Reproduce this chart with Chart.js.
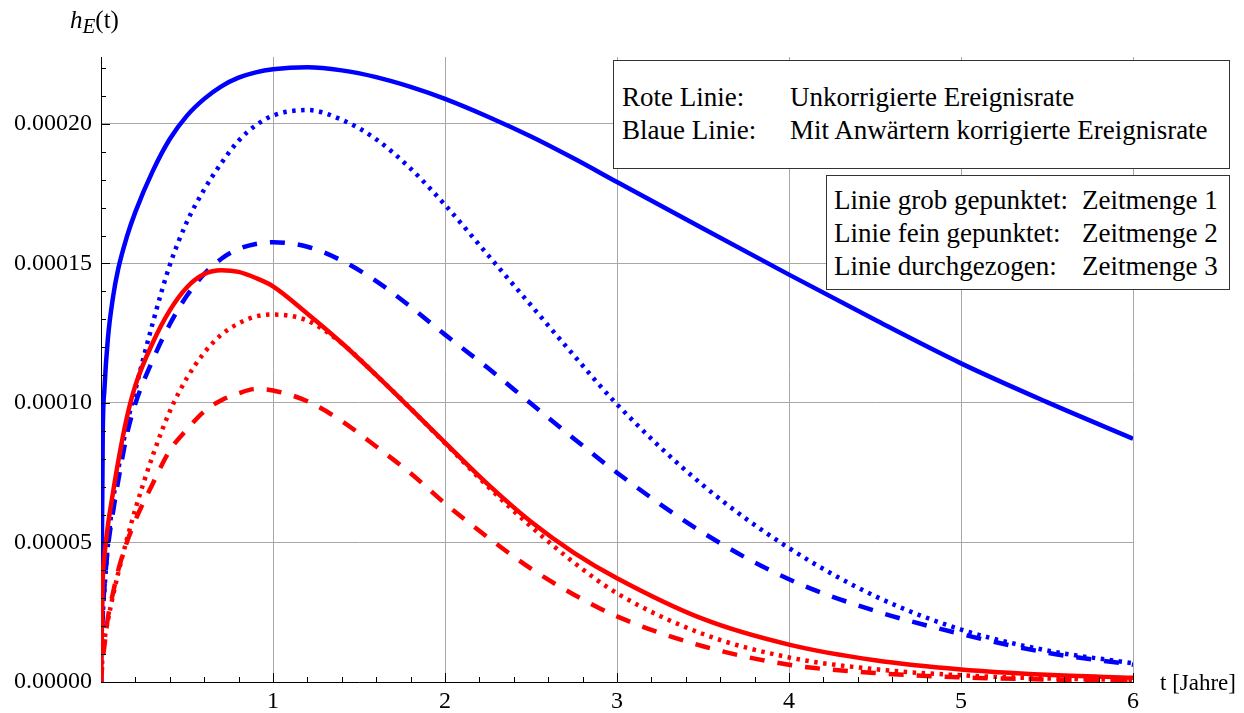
<!DOCTYPE html>
<html lang="de">
<head>
<meta charset="UTF-8">
<title>h_E(t)</title>
<script src="https://cdn.jsdelivr.net/npm/chart.js"></script>
<style>
  body { margin: 0; background: #fff; }
  #wrap { position: relative; width: 1244px; height: 713px; font-family: "Liberation Serif", serif; color: #000; }
  #chart { position: absolute; left: 0; top: 0; }
  .box { position: absolute; background: #fff; border: 1px solid #333; box-sizing: border-box; font-size: 27px; line-height: 33px; }
  .row { display: flex; white-space: nowrap; }
  .ylab { position: absolute; left: 70px; top: 6px; font-size: 25px; }
  .xlab { position: absolute; left: 1160px; top: 670px; font-size: 23px; white-space: nowrap; }
</style>
</head>
<body>
<div id="wrap">
  <canvas id="chart" width="1244" height="713"></canvas>
  <div class="ylab"><i>h</i><sub style="font-size:21px;position:relative;top:-1px"><i>E</i></sub>(t)</div>
  <div class="xlab">t [Jahre]</div>
  <div class="box" style="left:613px;top:60px;width:617px;height:109px;padding:20px 0 0 8px;">
    <div class="row"><span style="width:168px">Rote Linie:</span><span>Unkorrigierte Ereignisrate</span></div>
    <div class="row"><span style="width:168px">Blaue Linie:</span><span>Mit Anwärtern korrigierte Ereignisrate</span></div>
  </div>
  <div class="box" style="left:826px;top:175px;width:404px;height:115px;padding:8px 0 0 7px;">
    <div class="row"><span style="width:248px">Linie grob gepunktet:</span><span>Zeitmenge 1</span></div>
    <div class="row"><span style="width:248px">Linie fein gepunktet:</span><span>Zeitmenge 2</span></div>
    <div class="row"><span style="width:248px">Linie durchgezogen:</span><span>Zeitmenge 3</span></div>
  </div>
</div>
<script>
// t in Jahren
const tValues = [0, 0.01, 0.02, 0.04, 0.07, 0.1, 0.15, 0.2, 0.3, 0.4, 0.5, 0.6, 0.7, 0.8, 0.9, 1.0,
  1.2, 1.4, 1.6, 1.8, 2.0, 2.25, 2.5, 2.75, 3.0, 3.5, 4.0, 4.5, 5.0, 5.5, 6.0];

// rot = unkorrigiert
const redSet1 = [0, 0.000008, 0.000013, 0.000023, 0.000032, 0.000040, 0.000050, 0.000058, 0.000071, 0.000083, 0.0000905,
  0.000097, 0.000101, 0.0001035, 0.000105, 0.0001045, 0.0001006, 0.0000935, 0.0000844, 0.0000748, 0.000064,
  0.0000518, 0.0000406, 0.0000313, 0.0000235, 0.0000128, 0.0000062, 0.0000032, 0.0000017, 0.0000009, 0.0000005];
const redSet2 = [0, 0.000010, 0.000015, 0.000022, 0.000031, 0.000039, 0.000051, 0.000062, 0.000081, 0.000097, 0.000109,
  0.000118, 0.0001245, 0.0001285, 0.000131, 0.0001317, 0.0001295, 0.0001214, 0.00011, 0.000098, 0.0000856,
  0.00007, 0.0000557, 0.0000428, 0.0000318, 0.0000172, 0.0000088, 0.0000046, 0.0000024, 0.0000013, 0.0000007];
const redSet3 = [0, 0.000036, 0.000045, 0.000056, 0.000068, 0.000079, 0.0000947, 0.0001063, 0.0001215, 0.0001332, 0.0001415,
  0.0001462, 0.0001476, 0.000147, 0.0001448, 0.0001418, 0.000132, 0.0001215, 0.00011, 0.000098, 0.0000858,
  0.0000708, 0.0000574, 0.0000463, 0.0000372, 0.0000226, 0.0000134, 0.0000078, 0.0000045, 0.0000026, 0.0000015];

// blau = mit Anwärtern korrigiert
const blueSet1 = [0, 0.000024, 0.000034, 0.000048, 0.000061, 0.000072, 0.0000885, 0.0000998, 0.0001153, 0.0001282, 0.0001385,
  0.0001462, 0.0001517, 0.0001552, 0.000157, 0.0001576, 0.000156, 0.000151, 0.0001437, 0.0001345, 0.0001245,
  0.0001125, 0.0000998, 0.0000872, 0.000075, 0.0000535, 0.0000368, 0.0000255, 0.0000172, 0.0000105, 0.0000062];
const blueSet2 = [0, 0.000023, 0.000033, 0.000049, 0.000065, 0.000076, 0.000092, 0.0001047, 0.0001285, 0.0001494, 0.000165,
  0.0001765, 0.000186, 0.000194, 0.0001995, 0.000203, 0.000205, 0.0002015, 0.0001945, 0.000184, 0.000171,
  0.000153, 0.000135, 0.000117, 0.0000995, 0.0000705, 0.000048, 0.0000308, 0.0000188, 0.0000113, 0.0000067];
const blueSet3 = [0, 0.000088, 0.000105, 0.000123, 0.000138, 0.000148, 0.0001595, 0.0001685, 0.000183, 0.0001946, 0.000203,
  0.000209, 0.0002135, 0.0002166, 0.0002185, 0.0002196, 0.0002203, 0.0002192, 0.0002168, 0.0002133, 0.000209,
  0.0002026, 0.0001955, 0.0001876, 0.0001792, 0.0001625, 0.000146, 0.0001298, 0.0001142, 0.0001003, 0.0000872];

const RED = '#ff0000', BLUE = '#0000ff';
const DASH = [15, 13], DOT = [3.5, 5.5];

function pts(arr) {
  return tValues.map((t, i) => ({ x: t, y: arr[i] }));
}
function line(label, arr, color, dash) {
  return {
    label: label,
    data: pts(arr),
    borderColor: color,
    borderWidth: 4.5,
    borderDash: dash,
    borderCapStyle: 'butt',
    pointRadius: 0,
    fill: false,
    cubicInterpolationMode: 'monotone'
  };
}

// kleine Striche an den Achsen (innen), wie im Original
const axisTicks = {
  id: 'axisTicks',
  afterDraw(chart) {
    const ctx = chart.ctx, xs = chart.scales.x, ys = chart.scales.y;
    const x0 = xs.getPixelForValue(0), y0 = ys.getPixelForValue(0);
    ctx.save();
    ctx.strokeStyle = '#000';
    ctx.lineWidth = 1;
    ctx.beginPath();
    for (let i = 1; i <= 30; i++) {
      const px = Math.round(xs.getPixelForValue(i * 0.2)) + 0.5;
      const len = i % 5 === 0 ? 9 : 5;
      ctx.moveTo(px, y0);
      ctx.lineTo(px, y0 - len);
    }
    for (let i = 1; i <= 22; i++) {
      const py = Math.round(ys.getPixelForValue(i * 0.00001)) + 0.5;
      const len = i % 5 === 0 ? 9 : 5;
      ctx.moveTo(x0, py);
      ctx.lineTo(x0 + len, py);
    }
    ctx.stroke();
    ctx.restore();
  }
};

new Chart(document.getElementById('chart'), {
  type: 'line',
  data: {
    datasets: [
      line('Rot, Zeitmenge 1', redSet1, RED, DASH),
      line('Rot, Zeitmenge 2', redSet2, RED, DOT),
      line('Rot, Zeitmenge 3', redSet3, RED, []),
      line('Blau, Zeitmenge 1', blueSet1, BLUE, DASH),
      line('Blau, Zeitmenge 2', blueSet2, BLUE, DOT),
      line('Blau, Zeitmenge 3', blueSet3, BLUE, [])
    ]
  },
  options: {
    responsive: false,
    animation: false,
    layout: { padding: { top: 57, right: 111, bottom: 0, left: 0 } },
    plugins: { legend: { display: false }, tooltip: { enabled: false } },
    scales: {
      x: {
        type: 'linear',
        min: 0,
        max: 6,
        afterFit: s => { s.height = 31; },
        grid: { color: '#a8a8a8', lineWidth: 1, drawTicks: false },
        border: { color: '#000', width: 1 },
        ticks: {
          stepSize: 1,
          padding: 5,
          color: '#000',
          font: { family: 'Liberation Serif', size: 24 },
          callback: v => (v === 0 ? '' : String(v))
        }
      },
      y: {
        min: 0,
        max: 0.000224,
        afterFit: s => { s.width = 101; },
        afterBuildTicks: s => {
          s.ticks = s.ticks.filter(t => Math.abs(t.value / 0.00005 - Math.round(t.value / 0.00005)) < 1e-6);
        },
        grid: { color: '#a8a8a8', lineWidth: 1, drawTicks: false },
        border: { color: '#000', width: 1 },
        ticks: {
          stepSize: 0.00005,
          padding: 9,
          color: '#000',
          font: { family: 'Liberation Serif', size: 24 },
          callback: v => Number(v).toFixed(5)
        }
      }
    }
  },
  plugins: [axisTicks]
});
</script>
</body>
</html>
